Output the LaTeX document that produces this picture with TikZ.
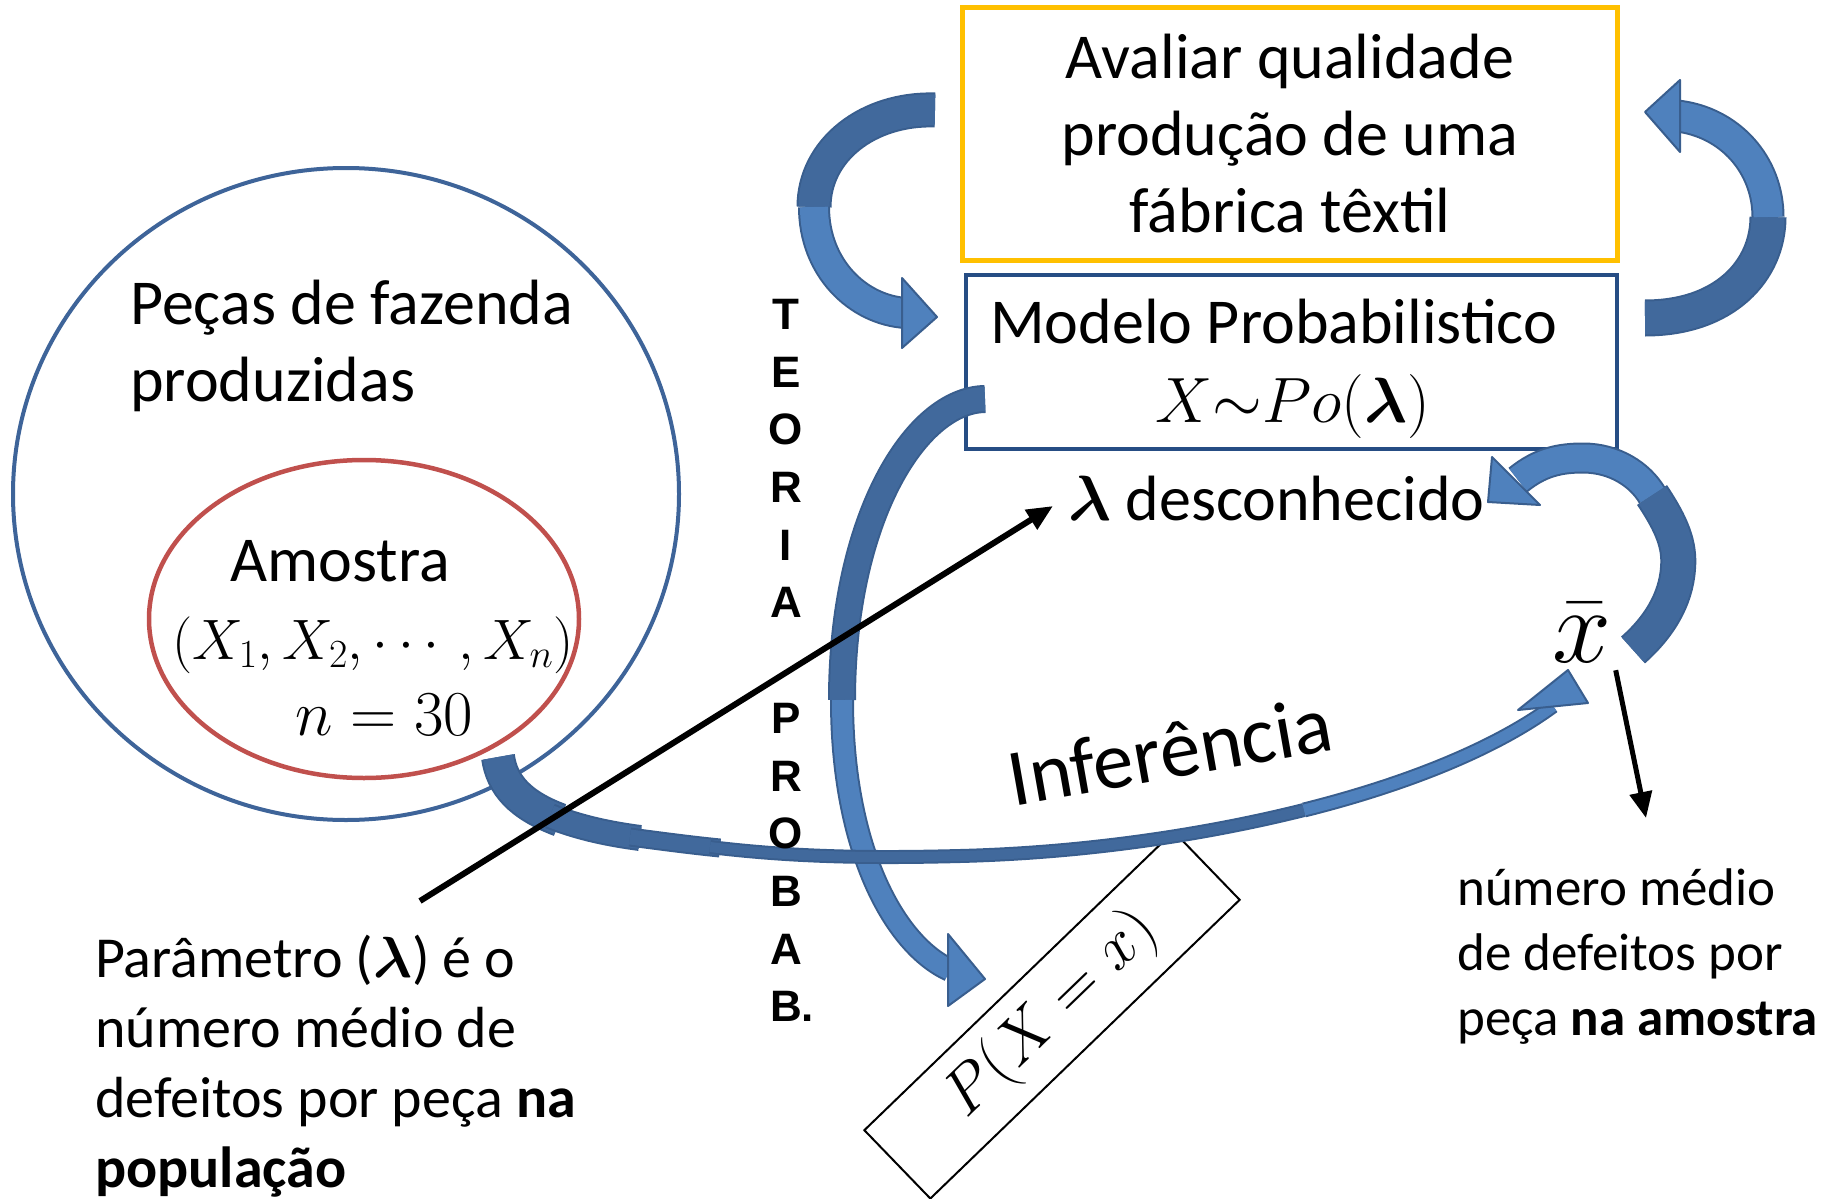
\RequirePackage{fix-cm}
\documentclass[tikz,border=0pt]{standalone}
\usepackage{amsmath,bm}
\usepackage{fontspec}
\setmainfont{Carlito}
\newfontfamily\teofont{Liberation Sans}
\usetikzlibrary{arrows.meta}

\definecolor{ambar}{HTML}{FFC000}
\definecolor{boxblue}{HTML}{264D84}
\definecolor{circblue}{HTML}{3E6499}
\definecolor{redline}{HTML}{C0504D}
\definecolor{arrlight}{HTML}{4F81BD}
\definecolor{arrdark}{HTML}{41699C}
\definecolor{arrline}{HTML}{395E8E}

\newcommand{\mainsize}{\fontsize{64pt}{77pt}\selectfont}
\newcommand{\vecsize}{\fontsize{57pt}{70pt}\selectfont}
\newcommand{\descsize}{\fontsize{58pt}{70pt}\selectfont}
\newcommand{\notesize}{\fontsize{53pt}{65pt}\selectfont}
\newcommand{\infsize}{\fontsize{81pt}{96pt}\selectfont}
\newcommand{\teosize}{\teofont\bfseries\fontsize{44pt}{57.7pt}\selectfont}
\newcommand{\xbarsize}{\fontsize{106pt}{130pt}\selectfont}
\newcommand{\probsize}{\fontsize{64pt}{80pt}\selectfont}

\tikzset{
  darkband/.style={draw=arrline, line width=2pt, double=arrdark, double distance=#1},
  lightband/.style={draw=arrline, line width=2pt, double=arrlight, double distance=#1},
  bluehead/.style={draw=arrline, line width=2pt, fill=arrlight, line join=round},
  blackarrow/.style={line width=6pt, -{Triangle[length=26pt,width=22pt]}},
  txt/.style={inner sep=0pt, font=\mainsize}
}

\begin{document}
\begin{tikzpicture}[x=1pt, y=-1pt]
\useasboundingbox (0,0) rectangle (1831,1199);

\draw[circblue, line width=4pt] (346,494) ellipse [x radius=333pt, y radius=326pt];
\draw[redline, line width=4.5pt] (364,619) ellipse [x radius=215pt, y radius=159pt];
\node[draw=ambar, line width=5pt, minimum width=655pt, minimum height=253pt, align=center,
  font=\mainsize, inner sep=0pt] (avaliar) at (1290,134) {Avaliar qualidade\\produção de uma\\fábrica têxtil};
\node[draw=boxblue, line width=4pt, minimum width=651pt, minimum height=174pt] (modelo) at (1291,362) {};
\node[draw, line width=2pt, minimum width=430pt, minimum height=95pt, rotate=44,
  font=\probsize] (prob) at (1052,1015) {$P(X=x)$};

\coordinate (aTail) at (935,110);
\coordinate (aTwist) at (814,207);
\coordinate (aBase) at (906,313);
\coordinate (aTip) at (937,317);
\draw[darkband=31pt] (aTail) .. controls (868,108) and (814,150) .. (aTwist);
\draw[lightband=28pt] (aTwist) .. controls (814,268) and (858,310) .. (aBase);
\filldraw[bluehead] (aTip) -- ++(-35,-39) -- ++(0,70) -- cycle;

\coordinate (bTail) at (1645,318);
\coordinate (bTwist) at (1768,217);
\coordinate (bBase) at (1677,116);
\coordinate (bTip) at (1645,112);
\draw[darkband=33pt] (bTail) .. controls (1725,318) and (1768,270) .. (bTwist);
\draw[lightband=29pt] (bTwist) .. controls (1768,165) and (1730,122) .. (bBase);
\filldraw[bluehead] (bTip) -- ++(35,-32) -- ++(0,72) -- cycle;

\coordinate (cTail) at (985,399);
\coordinate (cTwist) at (842,700);
\coordinate (cBase) at (950,970);
\coordinate (cTip) at (985,979);
\draw[darkband=24pt] (cTail) .. controls (915,400) and (842,520) .. (cTwist);
\draw[lightband=20pt] (cTwist) .. controls (842,850) and (895,945) .. (cBase);
\filldraw[bluehead] (cTip) -- ++(-37,-45) -- ++(0,72) -- cycle;

\coordinate (dTail) at (1633,650);
\coordinate (dTwist) at (1652,495);
\coordinate (dBase) at (1518,480);
\coordinate (dTip) at (1488,502);
\draw[darkband=32pt] (dTwist) .. controls (1672,525) and (1680,545) .. (1678,568)
  .. controls (1676,600) and (1658,628) .. (dTail);
\draw[lightband=27pt] (dBase) .. controls (1540,462) and (1560,458) .. (1583,458)
  .. controls (1615,458) and (1640,475) .. (dTwist);
\filldraw[bluehead] (dTip) -- ++(4,-45) -- ++(48,48) -- cycle;

\coordinate (eTail) at (498,757);
\coordinate (eBase) at (1553,706);
\coordinate (eTip) at (1568,670);
\draw[darkband=30pt] (eTail) .. controls (502,785) and (520,805) .. (560,820);
\draw[darkband=22pt] (550,816) .. controls (580,828) and (610,834) .. (640,838);
\draw[darkband=15pt] (630,837) .. controls (660,841) and (690,845) .. (720,848);
\draw[darkband=10pt] (710,847) .. controls (800,858) and (880,858) .. (960,856)
  .. controls (1080,853) and (1200,836) .. (1304,810);
\draw[lightband=11pt] (1304,810) .. controls (1408,784) and (1496,748) .. (eBase);
\filldraw[bluehead] (eTip) -- ++(-50,40) -- ++(70,-7) -- cycle;

\node[txt, anchor=base west, align=left] (pecas) at (130,401) {Peças de fazenda\\produzidas};
\node[txt, anchor=base] (amostra) at (340,581) {Amostra};
\node[inner sep=0pt, anchor=base, font=\vecsize] (amvec) at (373,659) {$(X_1,X_2,\cdots,X_n)$};
\node[txt, anchor=base] (amn) at (384,735) {$n=30$};
\node[txt, anchor=base west] (modtxt) at (990,343) {Modelo Probabilistico};
\node[txt, anchor=base] (modpo) at (1293,422) {$X{\sim}Po(\bm{\lambda})$};
\node[txt, anchor=base west] (lam) at (1068,520) {$\bm{\lambda}$ desconhecido};
\node[inner sep=0pt, anchor=base, font=\xbarsize] (xbar) at (1582,662) {$\bar{x}$};
\node[inner sep=0pt, anchor=base, rotate=10, font=\infsize] (inf) at (1175,778) {Inferência};
\node[inner sep=0pt, anchor=north, align=center, font=\teosize] (teoria) at (786,299)
  {T\\E\\O\\R\\I\\A\\~\\P\\R\\O\\B\\A\\B\rlap{.}};
\node[inner sep=0pt, anchor=base west, align=left, font=\descsize] (param) at (95,1187)
  {Parâmetro ($\bm{\lambda}$) é o\\número médio de\\defeitos por peça \textbf{na}\\\textbf{população}};
\node[inner sep=0pt, anchor=base west, align=left, font=\notesize] (amdesc) at (1457,1035)
  {número médio\\de defeitos por\\peça \textbf{na amostra}};

\coordinate (partop) at (420,901);
\coordinate (amtop) at (1646,818);
\draw[blackarrow] (partop) -- ([xshift=-15pt, yshift=-8pt]lam.west);
\draw[blackarrow, line width=5pt] ([xshift=4pt, yshift=-8pt]xbar.south east) -- (amtop);
\end{tikzpicture}
\end{document}
